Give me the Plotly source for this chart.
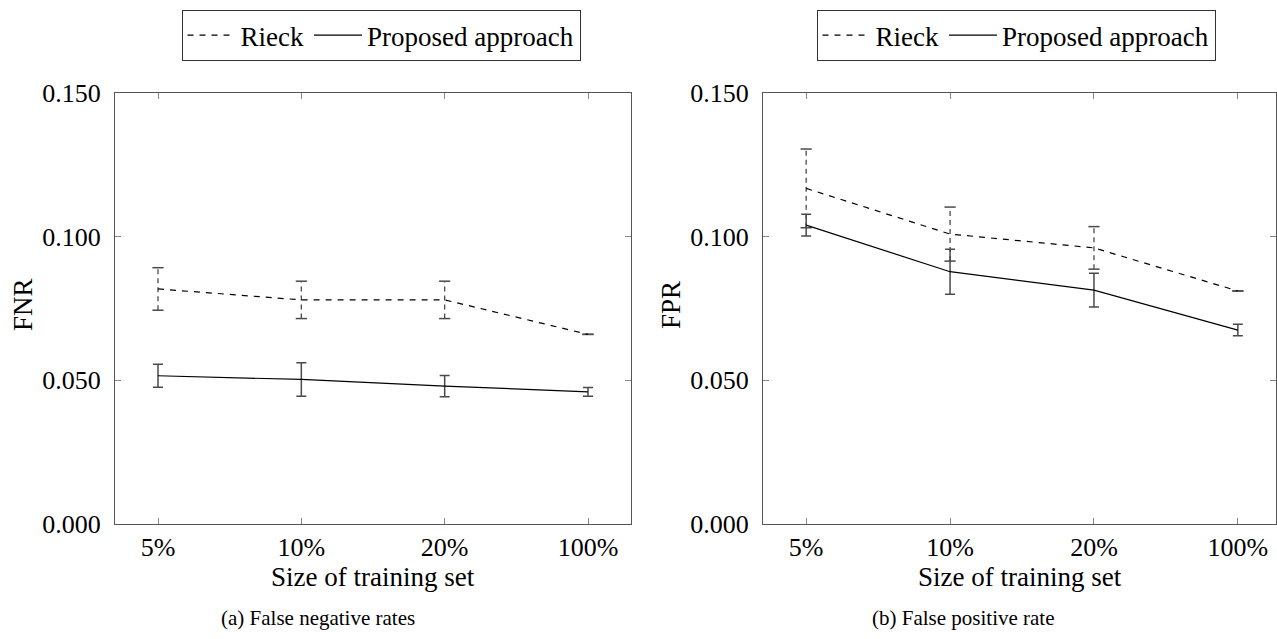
import plotly.graph_objects as go

categories = ["5%", "10%", "20%", "100%"]
ytick_vals = [0.0, 0.05, 0.10, 0.15]
ytick_text = ["0.000", "0.050", "0.100", "0.150"]

# Panel (a): False negative rates
fnr_rieck = [0.0818, 0.0780, 0.0780, 0.0660]
fnr_rieck_err = [0.0074, 0.0065, 0.0065, 0.0]
fnr_prop = [0.0516, 0.0503, 0.0480, 0.0460]
fnr_prop_err = [0.0040, 0.0058, 0.0037, 0.0015]

# Panel (b): False positive rate
fpr_rieck = [0.1168, 0.1009, 0.0961, 0.0811]
fpr_rieck_err = [0.0137, 0.0094, 0.0074, 0.0]
fpr_prop = [0.1040, 0.0878, 0.0814, 0.0675]
fpr_prop_err = [0.0038, 0.0078, 0.0059, 0.0020]

FONT = "Liberation Serif"
W, H = 1277, 639
BAR = "#4a4a4a"
AX = "#555555"
TICK_FS = 26
LBL_FS = 27

fig = go.Figure()

def add_panel(xa, ya, leg, rieck, rerr, prop, perr):
    xs = list(range(len(categories)))
    # dashed whiskers for Rieck
    wx, wy = [], []
    for i, (v, e) in enumerate(zip(rieck, rerr)):
        wx += [xs[i], xs[i], None]
        wy += [v - e, v + e, None]
    fig.add_trace(go.Scatter(x=wx, y=wy, mode="lines", xaxis=xa, yaxis=ya,
                             line=dict(color=BAR, width=1.3, dash="5px,4px"),
                             showlegend=False, hoverinfo="skip"))
    # caps for Rieck
    cx = xs + xs
    cy = [v - e for v, e in zip(rieck, rerr)] + [v + e for v, e in zip(rieck, rerr)]
    fig.add_trace(go.Scatter(x=cx, y=cy, mode="markers", xaxis=xa, yaxis=ya,
                             marker=dict(symbol="line-ew-open", size=8, color=BAR,
                                         line=dict(color=BAR, width=1.5)),
                             showlegend=False, hoverinfo="skip"))
    fig.add_trace(go.Scatter(x=xs, y=rieck, mode="lines", name="Rieck",
                             xaxis=xa, yaxis=ya, legend=leg,
                             line=dict(color="black", width=1.2, dash="6px,6px")))
    fig.add_trace(go.Scatter(x=xs, y=prop, mode="lines", name="Proposed approach",
                             xaxis=xa, yaxis=ya, legend=leg,
                             line=dict(color="black", width=1.2),
                             error_y=dict(type="data", array=perr, visible=True,
                                          color=BAR, thickness=1.5, width=5)))

add_panel("x", "y", "legend", fnr_rieck, fnr_rieck_err, fnr_prop, fnr_prop_err)
add_panel("x2", "y2", "legend2", fpr_rieck, fpr_rieck_err, fpr_prop, fpr_prop_err)

ydom = [1 - 524 / H, 1 - 93 / H]
common_x = dict(tickmode="array", tickvals=list(range(4)), ticktext=categories,
                ticks="inside", ticklen=6, tickcolor="#888888", tickwidth=1,
                showline=True, linecolor=AX, linewidth=1.2, mirror="ticks",
                showgrid=False, zeroline=False, automargin=False,
                tickfont=dict(family=FONT, size=TICK_FS, color="black"))
common_y = dict(tickmode="array", tickvals=ytick_vals, ticktext=ytick_text,
                range=[0, 0.15], ticks="inside", ticklen=6, tickcolor="#888888",
                tickwidth=1, showline=True, linecolor=AX, linewidth=1.2,
                mirror="ticks", showgrid=False, zeroline=False, automargin=False,
                ticklabelstandoff=8,
                tickfont=dict(family=FONT, size=TICK_FS, color="black"))

leg_common = dict(orientation="h", xanchor="center", y=1 - 10 / H, yanchor="top",
                  bordercolor="#333333", borderwidth=1, bgcolor="white",
                  font=dict(family=FONT, size=LBL_FS, color="black"),
                  itemwidth=48, tracegroupgap=0)

fig.update_layout(
    width=W, height=H,
    margin=dict(l=0, r=0, t=0, b=0),
    paper_bgcolor="white", plot_bgcolor="white",
    xaxis=dict(domain=[115 / W, 631 / W], range=[-0.3, 3.3], anchor="y", **common_x),
    yaxis=dict(domain=ydom, anchor="x", **common_y),
    xaxis2=dict(domain=[763 / W, 1276 / W], range=[-0.3, 3.265], anchor="y2", **common_x),
    yaxis2=dict(domain=ydom, anchor="x2", **common_y),
    legend=dict(x=381 / W, **leg_common),
    legend2=dict(x=1016 / W, **leg_common),
    showlegend=True,
)

ann = [
    dict(text="FNR", x=23 / W, y=1 - 305 / H, textangle=-90),
    dict(text="FPR", x=671 / W, y=1 - 305 / H, textangle=-90),
    dict(text="Size of training set", x=373 / W, y=1 - 577 / H),
    dict(text="Size of training set", x=1020 / W, y=1 - 577 / H),
]
for a in ann:
    fig.add_annotation(xref="paper", yref="paper", showarrow=False,
                       xanchor="center", yanchor="middle",
                       font=dict(family=FONT, size=LBL_FS, color="black"), **a)
for t, cx in [("(a) False negative rates", 318), ("(b) False positive rate", 963)]:
    fig.add_annotation(xref="paper", yref="paper", showarrow=False, text=t,
                       x=cx / W, y=1 - 618 / H, xanchor="center", yanchor="middle",
                       font=dict(family=FONT, size=21, color="black"))

fig.write_html("out.html", config={"displayModeBar": False},
               post_script="document.body.style.margin='0px';document.body.style.overflow='hidden';")
